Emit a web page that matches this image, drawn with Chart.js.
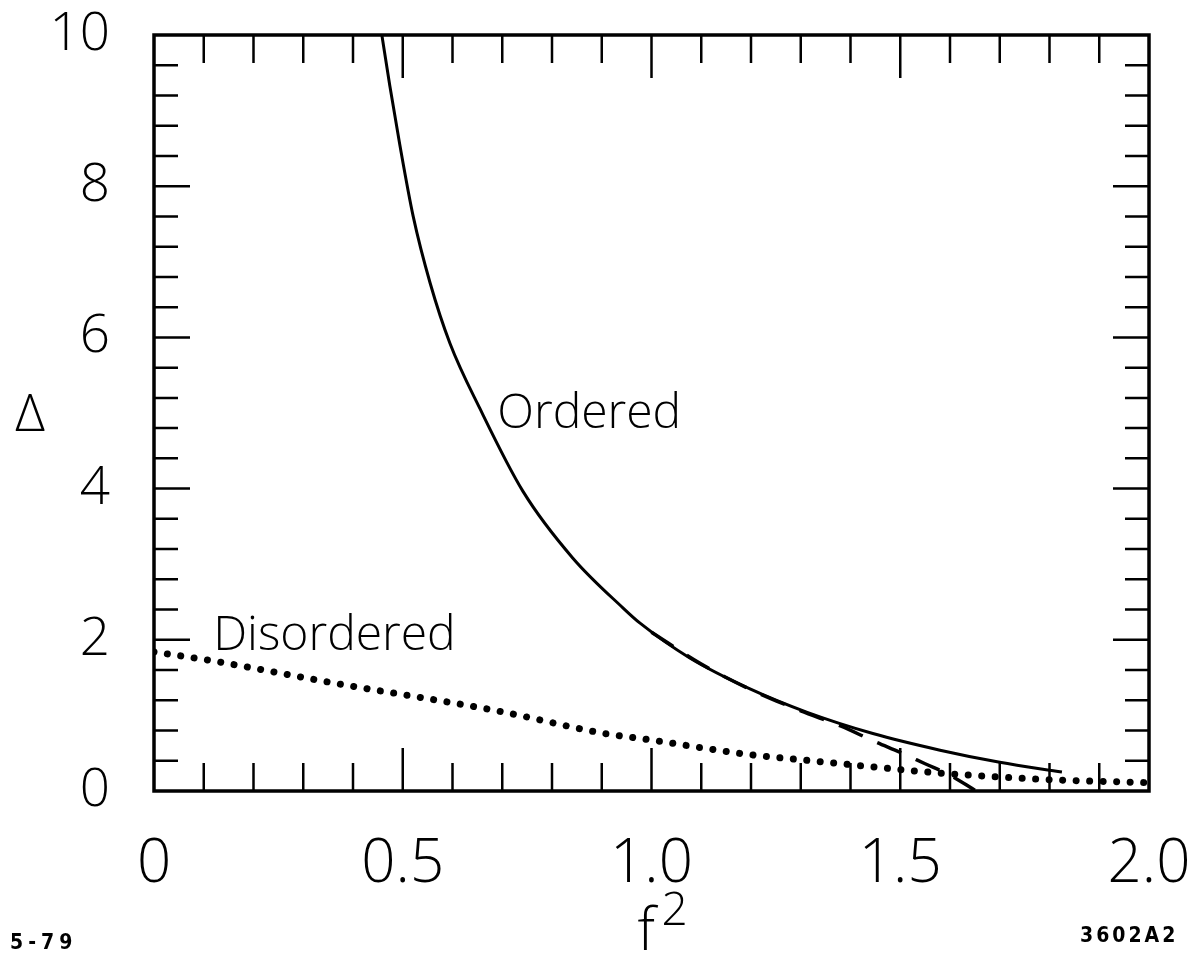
<!DOCTYPE html>
<html>
<head>
<meta charset="utf-8">
<style>
    html, body { margin: 0; padding: 0; background: #fff; }
    #wrap { position: relative; width: 1196px; height: 955px; }
    .nota { position: absolute; font-family: "DejaVu Sans Condensed", "DejaVu Sans", sans-serif; font-weight: bold; font-size: 21px; color: #000; }
</style>
</head>
<body>
<div id="wrap">
    <canvas id="myChartDelta"></canvas>
    <div class="nota" style="left:10px; top:930px; letter-spacing:5px;">5-79</div>
    <div class="nota" style="left:1080px; top:923px; letter-spacing:3px;">3602A2</div>
</div>

<script src="https://cdn.jsdelivr.net/npm/chart.js"></script>

<script>
    // valores
    var orderedF2    = [0.458, 0.474, 0.494, 0.521, 0.555, 0.595, 0.655, 0.742, 0.842, 0.943, 0.977, 1.077, 1.198, 1.313, 1.445, 1.58, 1.70, 1.825]
    var orderedDelta = [10.0, 9.33, 8.55, 7.60, 6.72, 5.92, 5.06, 3.96, 3.08, 2.42, 2.22, 1.76, 1.35, 1.04, 0.76, 0.54, 0.38, 0.25]

    var dashedF2    = [1.00, 1.10, 1.20, 1.30, 1.38, 1.45, 1.50, 1.55, 1.60, 1.65]
    var dashedDelta = [2.10, 1.68, 1.34, 1.06, 0.86, 0.65, 0.51, 0.36, 0.21, 0.01]

    var disorderedF2    = [0.0, 0.119, 0.36, 0.69, 0.906, 0.983, 1.198, 1.305, 1.413, 1.574, 1.80, 2.0]
    var disorderedDelta = [1.84, 1.72, 1.43, 1.06, 0.76, 0.69, 0.48, 0.41, 0.34, 0.24, 0.15, 0.11]

    var xTickLabels = ['0', '0.5', '1.0', '1.5', '2.0']
    var yTickLabels = ['0', '2', '4', '6', '8', '10']
    var xMinorTicks = [0.1, 0.2, 0.3, 0.4, 0.5, 0.6, 0.7, 0.8, 0.9, 1.0, 1.1, 1.2, 1.3, 1.4, 1.5, 1.6, 1.7, 1.8, 1.9]
    var yMinorTicks = [0.4, 0.8, 1.2, 1.6, 2.0, 2.4, 2.8, 3.2, 3.6, 4.0, 4.4, 4.8, 5.2, 5.6, 6.0, 6.4, 6.8, 7.2, 7.6, 8.0, 8.4, 8.8, 9.2, 9.6]

    const puntos = (xs, ys) => xs.map((v, i) => ({ x: v, y: ys[i] }))

    var fuente = '"Open Sans", "Liberation Sans", sans-serif'

    var marco = {
        id: 'marco',
        afterDatasetsDraw(chart) {
            const ctx = chart.ctx
            const a = chart.chartArea
            const sx = chart.scales.x
            const sy = chart.scales.y
            ctx.save()
            ctx.strokeStyle = '#000'
            ctx.lineCap = 'butt'
            ctx.lineWidth = 2.5
            xMinorTicks.forEach(v => {
                const px = sx.getPixelForValue(v)
                const len = (Math.round(v * 10) % 5 === 0) ? 43 : 28
                ctx.beginPath()
                ctx.moveTo(px, a.bottom); ctx.lineTo(px, a.bottom - len)
                ctx.moveTo(px, a.top); ctx.lineTo(px, a.top + len)
                ctx.stroke()
            })
            yMinorTicks.forEach(v => {
                const py = sy.getPixelForValue(v)
                const len = (Math.round(v * 10) % 20 === 0) ? 36 : 24
                ctx.beginPath()
                ctx.moveTo(a.left, py); ctx.lineTo(a.left + len, py)
                ctx.moveTo(a.right, py); ctx.lineTo(a.right - len, py)
                ctx.stroke()
            })
            ctx.lineWidth = 3.5
            ctx.strokeRect(a.left, a.top, a.right - a.left, a.bottom - a.top)

            // textos
            ctx.fillStyle = '#000'
            ctx.textAlign = 'left'
            ctx.textBaseline = 'alphabetic'
            ctx.font = '300 48px ' + fuente
            ctx.fillText('Ordered', sx.getPixelForValue(0.69), sy.getPixelForValue(4.8))
            ctx.fillText('Disordered', sx.getPixelForValue(0.119), sy.getPixelForValue(1.87))

            ctx.textAlign = 'center'
            ctx.font = '300 52px ' + fuente
            ctx.fillText('\u0394', 30, (a.top + a.bottom) / 2 + 18)

            const cx = sx.getPixelForValue(1.0)
            ctx.textAlign = 'left'
            ctx.font = '300 58px ' + fuente
            ctx.fillText('f', cx - 14, 950)
            ctx.font = '300 46px ' + fuente
            ctx.fillText('2', cx + 10, 925)
            ctx.restore()
        }
    }

    var ctxD = document.getElementById('myChartDelta')

    var myChartDelta = new Chart(ctxD, {
        type: 'line',
        data: {
            datasets: [{
                label: 'Ordered',
                data: puntos(orderedF2, orderedDelta),
                borderColor: '#000',
                borderWidth: 3,
                pointRadius: 0,
                cubicInterpolationMode: 'monotone',
                fill: false
            }, {
                label: 'Ordered (aprox.)',
                data: puntos(dashedF2, dashedDelta),
                borderColor: '#000',
                borderWidth: 3.5,
                borderDash: [26, 16],
                pointRadius: 0,
                cubicInterpolationMode: 'monotone',
                fill: false
            }, {
                label: 'Disordered',
                data: puntos(disorderedF2, disorderedDelta),
                borderColor: '#000',
                borderWidth: 7,
                borderDash: [0.01, 13.5],
                borderCapStyle: 'round',
                pointRadius: 0,
                cubicInterpolationMode: 'monotone',
                fill: false
            }]
        },
        options: {
            responsive: true,
            maintainAspectRatio: false,
            animation: false,
            layout: { padding: { left: 0, right: 47, top: 35, bottom: 0 } },
            plugins: {
                legend: { display: false },
                tooltip: { enabled: false }
            },
            scales: {
                x: {
                    type: 'linear',
                    min: 0,
                    max: 2,
                    grid: { display: false },
                    border: { display: false },
                    ticks: {
                        stepSize: 0.5,
                        color: '#000',
                        padding: 30,
                        maxRotation: 0,
                        font: { family: fuente, size: 60, weight: 300 },
                        callback: (v) => xTickLabels[Math.round(v * 2)]
                    },
                    afterFit: (s) => { s.height = 164; s.paddingLeft = 0; s.paddingRight = 0 }
                },
                y: {
                    min: 0,
                    max: 10,
                    grid: { display: false },
                    border: { display: false },
                    ticks: {
                        stepSize: 2,
                        color: '#000',
                        padding: 36,
                        font: { family: fuente, size: 53, weight: 300 },
                        callback: (v) => yTickLabels[Math.round(v / 2)]
                    },
                    afterFit: (s) => { s.width = 154; s.paddingTop = 0; s.paddingBottom = 0 }
                }
            }
        },
        plugins: [marco]
    })
</script>
</body>
</html>
